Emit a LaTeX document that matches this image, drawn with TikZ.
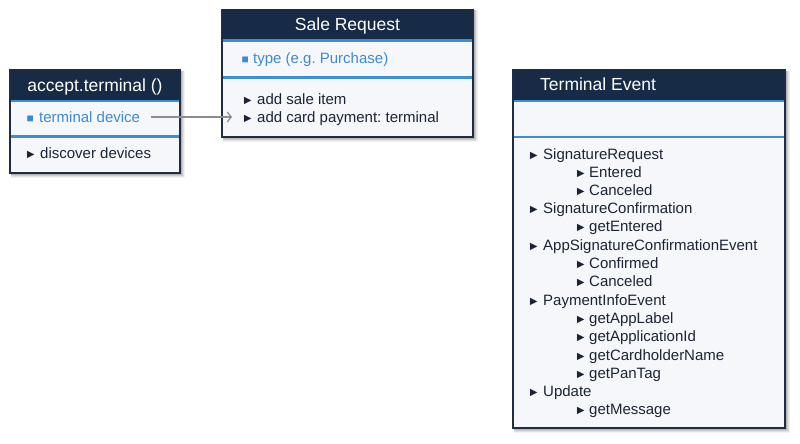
\documentclass[tikz,border=0pt]{standalone}
\usepackage{fontspec}
\setmainfont{Liberation Sans}
\usetikzlibrary{arrows.meta}
\frenchspacing
\definecolor{navy}{HTML}{172A46}
\definecolor{bord}{HTML}{1E2D44}
\definecolor{bodyc}{HTML}{F6F7FA}
\definecolor{sepblue}{HTML}{3A90D8}
\definecolor{txtblue}{HTML}{3B8BD4}
\definecolor{txtdark}{HTML}{1B2436}
\definecolor{arrgray}{HTML}{8C8C8C}
\newcommand\mytri[1]{\makebox[#1][l]{\fontsize{12.5}{12.5}\selectfont ►}}
\newcommand\mysq[1]{\makebox[#1][l]{\fontsize{12}{12}\selectfont ■}}
\newcommand\boxshadow[4]{%
  \foreach \d/\o in {5/0.05,4/0.07,3/0.09,2/0.12}{%
    \fill[black,opacity=\o] (#1+1,#2+1) rectangle (#3+\d,#4+\d);}}
\tikzset{
  boxbody/.style={fill=bodyc, draw=none, inner sep=0pt},
  boxframe/.style={draw=bord, line width=1.5pt},
  hdr/.style={fill=navy},
  sepline/.style={draw=sepblue, line width=2.2pt},
  title/.style={text=white, font=\fontsize{17.5}{20}\selectfont, inner sep=0pt, text height=12.5pt, text depth=0pt},
  item/.style={font=\fontsize{15}{18}\selectfont, text=txtdark, inner sep=0pt, text height=10.7pt, text depth=0pt, anchor=west},
  attr/.style={item, text=txtblue},
  link/.style={draw=arrgray, line width=1.2pt, -{Straight Barb[length=4pt,width=10pt]}}
}
\begin{document}
\begin{tikzpicture}[x=1pt,y=-1pt]
\useasboundingbox (0,0) rectangle (800,444);
% ---------- accept.terminal ()
\boxshadow{10}{70}{180}{173}
\node[boxbody, minimum width=170pt, minimum height=103pt] (acc) at (95,121.5) {};
\fill[hdr] (10,70) rectangle (180,100);
\draw[sepline] (10,101) -- (180,101);
\draw[sepline] (10,136.5) -- (180,136.5);
\draw[boxframe] (10,70) rectangle (180,173);
\node[title] (acct) at (95,85) {accept.terminal ()};
\node[attr] (tdev) at (26.5,117) {\mysq{12.5pt}terminal device};
\node[item] (disc) at (24.5,153) {\mytri{15.5pt}discover devices};
% ---------- Sale Request
\boxshadow{222}{9.5}{473}{137}
\node[boxbody, minimum width=251pt, minimum height=127.5pt] (sale) at (347.5,73.25) {};
\fill[hdr] (222,9.5) rectangle (473,39.5);
\draw[sepline] (222,40.5) -- (473,40.5);
\draw[sepline] (222,77.5) -- (473,77.5);
\draw[boxframe] (222,9.5) rectangle (473,137);
\node[title] (salet) at (347.5,24) {Sale Request};
\node[attr] (stype) at (241.5,58) {\mysq{11.5pt}type (e.g. Purchase)};
\node[item] (sitem) at (241.5,99) {\mytri{15.5pt}add sale item};
\node[item] (scard) at (241.5,117) {\mytri{15.5pt}add card payment: terminal};
% ---------- Terminal Event
\boxshadow{513}{69.5}{785}{428}
\node[boxbody, minimum width=272pt, minimum height=358.5pt] (tev) at (649,248.75) {};
\fill[hdr] (513,69.5) rectangle (785,100);
\draw[sepline] (513,101) -- (785,101);
\draw[sepline] (513,137) -- (785,137);
\draw[boxframe] (513,69.5) rectangle (785,428);
\node[title, anchor=west] (tevt) at (540,84) {Terminal Event};
\node[item] (e1) at (527.5,154) {\mytri{15.5pt}SignatureRequest};
\node[item] (e2) at (574.5,172) {\mytri{14.5pt}Entered};
\node[item] (e3) at (574.5,190) {\mytri{14.5pt}Canceled};
\node[item] (e4) at (527.5,208.3) {\mytri{15.5pt}SignatureConfirmation};
\node[item] (e5) at (574.5,226.6) {\mytri{14.5pt}getEntered};
\node[item] (e6) at (527.5,244.9) {\mytri{15.5pt}AppSignatureConfirmationEvent};
\node[item] (e7) at (574.5,263.2) {\mytri{14.5pt}Confirmed};
\node[item] (e8) at (574.5,281.5) {\mytri{14.5pt}Canceled};
\node[item] (e9) at (527.5,299.8) {\mytri{15.5pt}PaymentInfoEvent};
\node[item] (e10) at (574.5,318.1) {\mytri{14.5pt}getAppLabel};
\node[item] (e11) at (574.5,336.4) {\mytri{14.5pt}getApplicationId};
\node[item] (e12) at (574.5,354.7) {\mytri{14.5pt}getCardholderName};
\node[item] (e13) at (574.5,373) {\mytri{14.5pt}getPanTag};
\node[item] (e14) at (527.5,391.3) {\mytri{15.5pt}Update};
\node[item] (e15) at (574.5,409.6) {\mytri{14.5pt}getMessage};
% ---------- connector
\draw[link, shorten <=11pt, shorten >=9.5pt] (tdev.east) -- (scard.west);
\end{tikzpicture}
\end{document}
